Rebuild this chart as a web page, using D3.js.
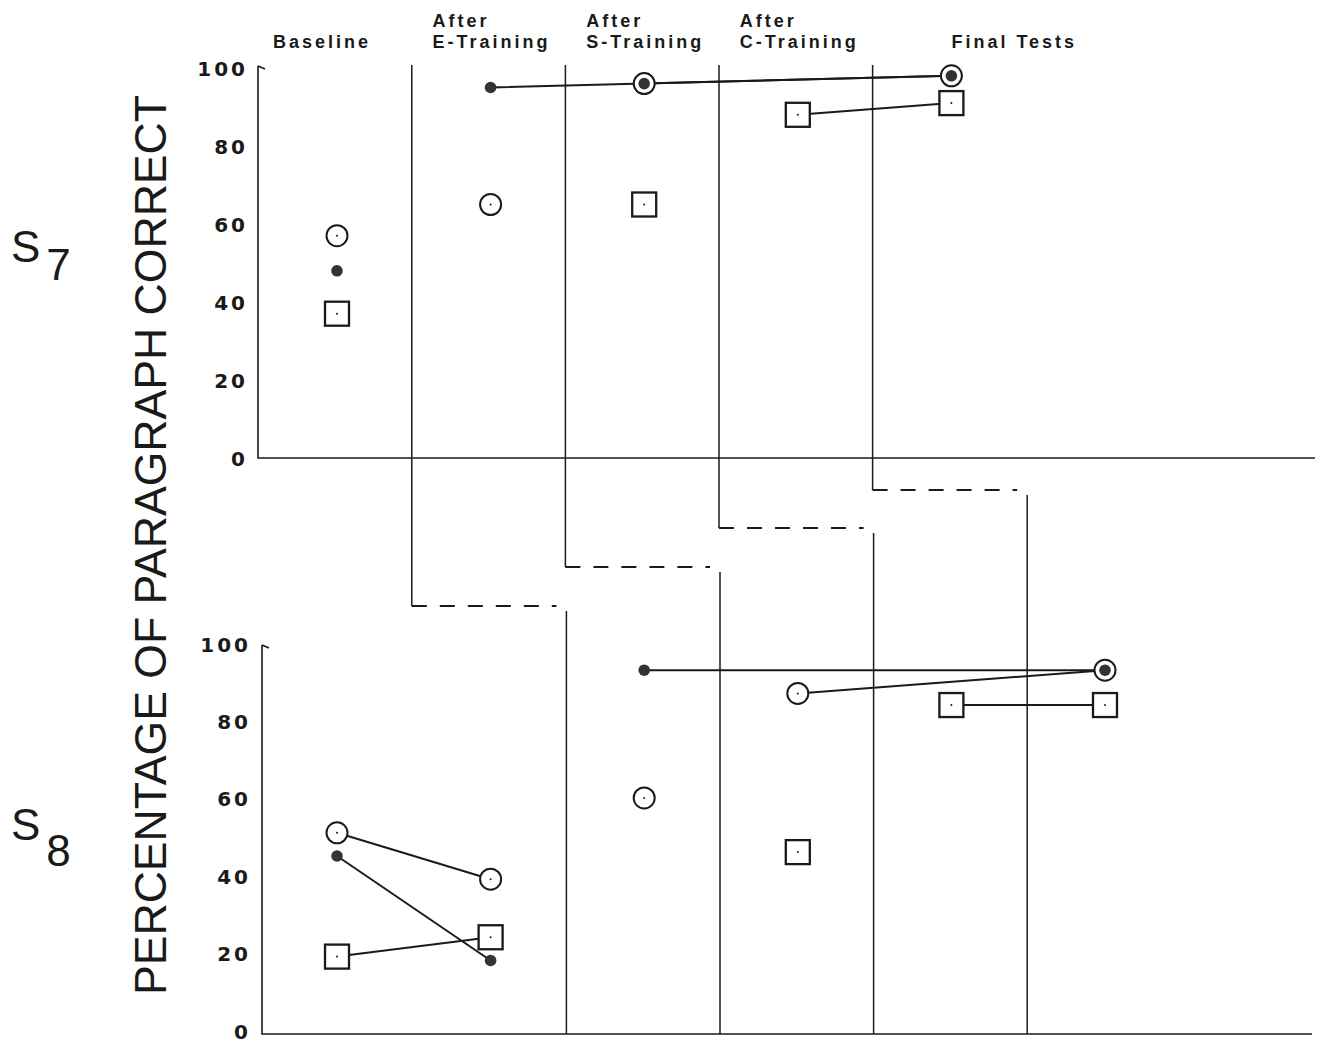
<!DOCTYPE html>
<html lang="en">
<head>
<meta charset="UTF-8">
<title>S7 / S8 paragraph correct</title>
<script src="https://cdnjs.cloudflare.com/ajax/libs/d3/7.8.5/d3.min.js"></script>
<style>
  body { margin: 0px; background: #fff; }
  svg text { font-family: "Liberation Sans", Arial, sans-serif; fill: #1a1a1a; }
  .tick text { font-family: "DejaVu Sans", sans-serif; font-weight: bold; font-size: 20px; letter-spacing: 3px; }
  .hdr { font-weight: bold; font-size: 18px; letter-spacing: 3px; }
</style>
</head>
<body>
<svg id="chart" width="1325" height="1046"></svg>
<script>
// session slots shared by both panels (top panel uses the first five)
const slots = [0, 1, 2, 3, 4, 5];
const yTicks = [0, 20, 40, 60, 80, 100];
const headers = [
  ['', 'Baseline'],
  ['After', 'E-Training'],
  ['After', 'S-Training'],
  ['After', 'C-Training'],
  ['', 'Final  Tests']
];

// S7 (top panel)
const s7Circle = [57, 65, 96, null, 98];
const s7Dot    = [48, 95, 96, null, 98];
const s7Square = [37, null, 65, 88, 91];
const s7CircleLinks = [[2, 4]];
const s7DotLinks    = [[1, 2, 4]];
const s7SquareLinks = [[3, 4]];

// S8 (bottom panel)
const s8Circle = [52, 40, 61, 88, null, 94];
const s8Dot    = [46, 19, 94, null, null, 94];
const s8Square = [20, 25, null, 47, 85, 85];
const s8CircleLinks = [[0, 1], [3, 5]];
const s8DotLinks    = [[0, 1], [2, 5]];
const s8SquareLinks = [[0, 1], [4, 5]];

const svg = d3.select('#chart');
const x = d3.scaleLinear([0, 5], [337, 1105]);
const yTop = d3.scaleLinear([0, 100], [458, 68]);
const yBot = d3.scaleLinear([0, 100], [1034, 647]);
const ink = '#1a1a1a';

// headers
headers.forEach((h, i) => {
  let x0 = i == 0 ? x(0) - 64 : (i == 4 ? x(4) : x(i) - 58);
  if (h[0]) svg.append('text').attr('class', 'hdr').attr('x', x0).attr('y', 27).text(h[0]);
  svg.append('text').attr('class', 'hdr').attr('x', x0).attr('y', 48).text(h[1]);
});

// y title + subject labels
svg.append('text')
  .attr('transform', 'translate(166, 545) rotate(-90)')
  .attr('text-anchor', 'middle')
  .attr('font-size', 44)
  .attr('textLength', 900)
  .attr('lengthAdjust', 'spacingAndGlyphs')
  .text('PERCENTAGE OF PARAGRAPH CORRECT');

function subject (label, sub, y, drop) {
  let t = svg.append('text').attr('x', 11).attr('y', y).attr('font-size', 44);
  t.append('tspan').text(label);
  t.append('tspan').attr('dx', 6).attr('dy', drop).text(sub);
}
subject('S', '7', 262, 18);
subject('S', '8', 840, 26);

function drawAxes (y, ax, right, labelX, dy) {
  let g = svg.append('g').attr('transform', `translate(${ax}, 0)`)
    .call(d3.axisLeft(y).tickValues(yTicks).tickSize(0).tickSizeOuter(0).tickPadding(0));
  g.select('.domain').remove();
  g.selectAll('.tick text').attr('x', labelX).attr('dy', dy);
  svg.append('path')
    .attr('d', `M${ax} ${y(100) - 2}L${ax} ${y(0)}L${right} ${y(0)}`)
    .attr('fill', 'none').attr('stroke', ink).attr('stroke-width', 1.6);
  svg.append('path')
    .attr('d', `M${ax} ${y(100) - 2}L${ax + 7} ${y(100) + 1}`)
    .attr('fill', 'none').attr('stroke', ink).attr('stroke-width', 1.6);
}
drawAxes(yTop, 258, 1315, -10, '0.36em');
drawAxes(yBot, 262, 1312, -11, '0.2em');

// phase change lines: top panel drop down, step across dashed, continue in bottom panel
const dashY = [606, 567, 528, 490];
for (let k = 0; k < 4; k++) {
  let xa = (x(k) + x(k + 1)) / 2 - 2;
  let xb = (x(k + 1) + x(k + 2)) / 2 - 1;
  svg.append('path')
    .attr('d', `M${xa} ${yTop(100) - 3}L${xa} ${dashY[k]}`)
    .attr('stroke', ink).attr('stroke-width', 1.5).attr('fill', 'none');
  svg.append('path')
    .attr('d', `M${xa} ${dashY[k]}L${xb - 10} ${dashY[k]}`)
    .attr('stroke', ink).attr('stroke-width', 2).attr('stroke-dasharray', '15 13').attr('fill', 'none');
  svg.append('path')
    .attr('d', `M${xb} ${dashY[k] + 5}L${xb} ${yBot(0)}`)
    .attr('stroke', ink).attr('stroke-width', 1.5).attr('fill', 'none');
}

function drawLinks (vals, links, y) {
  let line = d3.line().x(i => x(i)).y(i => y(vals[i]));
  links.forEach(l => {
    svg.append('path').attr('d', line(l))
      .attr('fill', 'none').attr('stroke', ink).attr('stroke-width', 2);
  });
}

function drawPanel (circ, dot, sq, links, y) {
  drawLinks(circ, links[0], y);
  drawLinks(dot, links[1], y);
  drawLinks(sq, links[2], y);
  let pts = v => v.map((d, i) => ({ i: i, v: d })).filter(d => d.v != null);
  let g = svg.append('g');
  g.selectAll('.sq').data(pts(sq)).enter().append('rect')
    .attr('x', d => x(d.i) - 12).attr('y', d => y(d.v) - 12)
    .attr('width', 24).attr('height', 24)
    .attr('fill', '#fff').attr('stroke', ink).attr('stroke-width', 2.3);
  g.selectAll('.ci').data(pts(circ)).enter().append('circle')
    .attr('cx', d => x(d.i)).attr('cy', d => y(d.v)).attr('r', 10.5)
    .attr('fill', '#fff').attr('stroke', ink).attr('stroke-width', 2);
  g.selectAll('.sp').data(pts(sq).concat(pts(circ))).enter().append('circle')
    .attr('cx', d => x(d.i)).attr('cy', d => y(d.v)).attr('r', 1).attr('fill', ink);
  g.selectAll('.dt').data(pts(dot)).enter().append('circle')
    .attr('cx', d => x(d.i)).attr('cy', d => y(d.v)).attr('r', 5.8)
    .attr('fill', '#333');
}

drawPanel(s7Circle, s7Dot, s7Square, [s7CircleLinks, s7DotLinks, s7SquareLinks], yTop);
drawPanel(s8Circle, s8Dot, s8Square, [s8CircleLinks, s8DotLinks, s8SquareLinks], yBot);
</script>
</body>
</html>
